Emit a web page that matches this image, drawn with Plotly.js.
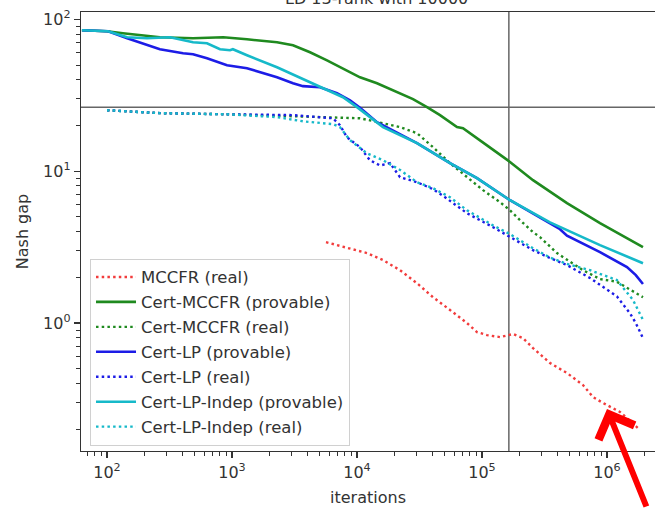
<!DOCTYPE html>
<html>
<head>
<meta charset="utf-8">
<script src="https://cdn.plot.ly/plotly-3.0.1.min.js"></script>
<style>html,body{margin:0;padding:0;background:#fff;}#chart{width:655px;height:508px;}</style>
</head>
<body>
<div id="chart"></div>
<script>
// ---------- data ----------
const chartTitle = 'LD 13-rank with 10000';
const xTitle = 'iterations';
const yTitle = 'Nash gap';

const xTickVals = [1e2, 1e3, 1e4, 1e5, 1e6];
const xTickText = ['10<sup>2</sup>', '10<sup>3</sup>', '10<sup>4</sup>', '10<sup>5</sup>', '10<sup>6</sup>'];
const yTickVals = [1, 10, 100];
const yTickText = ['10<sup>0</sup>', '10<sup>1</sup>', '10<sup>2</sup>'];

const seriesNames = ['MCCFR (real)', 'Cert-MCCFR (provable)', 'Cert-MCCFR (real)',
  'Cert-LP (provable)', 'Cert-LP (real)', 'Cert-LP-Indep (provable)', 'Cert-LP-Indep (real)'];

const mccfrRealX = [5649, 8790, 12020, 16140, 22080, 30200, 40550, 55460, 75860, 91200, 109600, 139300, 177000, 212800, 255900, 350000, 478600, 642700, 772700, 929000, 1270000, 1837000];
const mccfrRealY = [3.41, 3.11, 2.89, 2.60, 2.23, 1.83, 1.48, 1.22, 1.0, 0.873, 0.834, 0.809, 0.847, 0.797, 0.685, 0.546, 0.469, 0.391, 0.326, 0.298, 0.260, 0.198];

const certMccfrProvX = [63, 100, 134, 265, 488, 850, 1318, 2291, 3076, 4207, 5754, 7727, 10570, 14450, 19410, 28050, 36310, 46130, 63100, 70470, 109600, 167500, 255900, 478600, 879000, 1940000];
const certMccfrProvY = [84.7, 83.4, 80.9, 76.2, 75.0, 76.2, 73.8, 70.6, 67.5, 60.7, 53.7, 47.6, 41.5, 37.9, 34.1, 29.8, 26.4, 23.4, 19.5, 19.2, 14.8, 11.5, 8.73, 6.16, 4.55, 3.16];

const certMccfrRealX = [100, 265, 912, 3076, 5754, 10570, 16140, 22080, 30200, 40550, 55460, 75860, 101900, 139300, 167500, 201400, 255900, 291100, 398100, 642700, 879000, 1200000, 1837000, 1940000];
const certMccfrRealY = [25.2, 24.1, 23.7, 23.0, 22.7, 22.3, 20.7, 19.5, 17.8, 14.4, 11.3, 9.14, 7.50, 6.25, 5.53, 4.76, 3.97, 3.68, 2.89, 2.23, 1.95, 1.87, 1.51, 1.48];

const certLpProvX = [63, 102, 145, 194, 265, 406, 488, 631, 912, 1318, 1675, 2291, 3076, 3698, 5058, 6918, 8790, 10570, 14450, 30200, 55460, 91200, 167500, 350000, 420700, 478600, 879000, 1445000, 1700000, 1940000];
const certLpProvY = [84.7, 83.4, 75.0, 69.5, 63.5, 59.7, 58.9, 55.4, 49.8, 47.6, 44.8, 41.5, 37.9, 36.3, 35.7, 32.6, 29.3, 26.2, 21.0, 15.3, 11.3, 9.0, 6.44, 4.55, 4.15, 3.76, 2.93, 2.34, 2.07, 1.81];

const certLpRealX = [100, 265, 912, 3076, 6430, 7300, 8318, 10570, 12700, 15280, 18370, 22080, 30200, 40550, 50580, 75860, 122500, 167500, 255900, 350000, 478600, 731100, 1200000, 1528000, 1700000, 1940000];
const certLpRealY = [25.2, 24.1, 23.7, 23.4, 22.3, 20.1, 16.7, 14.4, 11.8, 10.9, 11.3, 9.14, 8.46, 7.62, 6.74, 5.29, 4.28, 3.68, 3.02, 2.68, 2.41, 1.98, 1.50, 1.16, 1.0, 0.797];

const certLpIndepProvX = [63, 102, 145, 209, 319, 488, 631, 802, 964, 1016, 1318, 2291, 4207, 7727, 10000, 14450, 16140, 30200, 55460, 91200, 167500, 350000, 478600, 879000, 1940000];
const certLpIndepProvY = [84.7, 83.4, 76.2, 75.0, 76.2, 70.6, 69.5, 63.5, 62.5, 63.5, 58.0, 48.3, 38.5, 30.7, 26.4, 21.0, 19.5, 15.3, 11.3, 9.0, 6.44, 4.6, 4.09, 3.26, 2.48];

const certLpIndepRealX = [100, 265, 912, 2291, 3698, 6430, 7300, 8790, 12020, 16140, 22080, 30200, 40550, 55460, 75860, 122500, 167500, 255900, 350000, 478600, 731100, 1200000, 1614000, 1940000];
const certLpIndepRealY = [25.2, 24.1, 23.7, 22.7, 21.3, 20.4, 19.5, 16.0, 13.1, 11.8, 10.2, 8.46, 7.73, 6.74, 5.53, 4.4, 3.85, 3.11, 2.7, 2.45, 2.23, 1.92, 1.42, 1.05];

// reference cross-hair and arrow target
const crossX = 164000;
const crossY = 26.4;
const arrowTip = [1000000, 0.272];

// ---------- styling ----------
const cRed = '#f23c3c', cGreen = '#1f8a1f', cBlue = '#1c1ce6', cCyan = '#16b9c9';
const dotDash = '2.5px,3.2px';
const axisColor = '#333';
const textColor = '#333';

function minorVals(lo, hi) {
  const v = [];
  for (let e = lo; e <= hi; e++) for (let m = 2; m <= 9; m++) v.push(m * Math.pow(10, e));
  return v;
}

const lines = [
  [mccfrRealX, mccfrRealY, cRed, true],
  [certMccfrProvX, certMccfrProvY, cGreen, false],
  [certMccfrRealX, certMccfrRealY, cGreen, true],
  [certLpProvX, certLpProvY, cBlue, false],
  [certLpRealX, certLpRealY, cBlue, true],
  [certLpIndepProvX, certLpIndepProvY, cCyan, false],
  [certLpIndepRealX, certLpIndepRealY, cCyan, true]
];

const traces = [
  {x: [crossX, crossX], y: [1e-3, 1e4], mode: 'lines', line: {color: '#666', width: 1.5}, showlegend: false, hoverinfo: 'skip'},
  {x: [1, 1e9], y: [crossY, crossY], mode: 'lines', line: {color: '#666', width: 1.5}, showlegend: false, hoverinfo: 'skip'}
];
lines.forEach((s, i) => {
  traces.push({
    x: s[0], y: s[1], name: seriesNames[i], mode: 'lines', legendgroup: 'g' + i,
    line: {color: s[2], width: s[3] ? 2.4 : 2.6, dash: s[3] ? dotDash : 'solid'}
  });
});

const tickFont = {family: 'DejaVu Sans', size: 16, color: textColor};

const layout = {
  width: 655, height: 508,
  margin: {l: 81, r: 0, t: 12, b: 57, pad: 0},
  paper_bgcolor: '#fff', plot_bgcolor: '#fff',
  font: {family: 'DejaVu Sans', size: 16, color: textColor},
  showlegend: true,
  legend: {
    x: 0.0157, y: 0.438, xanchor: 'left', yanchor: 'top',
    bgcolor: 'rgba(255,255,255,0.85)', bordercolor: '#d0d0d0', borderwidth: 1,
    font: {family: 'DejaVu Sans', size: 16.5, color: textColor},
    tracegroupgap: 0.5, itemwidth: 40
  },
  xaxis: {
    type: 'log', range: [1.792, 6.384], tickmode: 'array', tickvals: xTickVals, ticktext: xTickText,
    ticks: 'outside', ticklen: 6, tickwidth: 1.3, tickcolor: axisColor,
    showline: true, linecolor: axisColor, linewidth: 1.3, mirror: true,
    showgrid: false, zeroline: false, tickfont: tickFont,
    minor: {tickvals: minorVals(1, 6), ticks: 'outside', ticklen: 3.5, tickwidth: 1, tickcolor: axisColor, showgrid: false},
    title: {text: xTitle, font: {family: 'DejaVu Sans', size: 16, color: textColor}, standoff: 11}
  },
  yaxis: {
    type: 'log', range: [-0.842, 2.048], tickmode: 'array', tickvals: yTickVals, ticktext: yTickText,
    ticks: 'outside', ticklen: 6, tickwidth: 1.3, tickcolor: axisColor,
    showline: true, linecolor: axisColor, linewidth: 1.3, mirror: false,
    showgrid: false, zeroline: false, tickfont: tickFont,
    minor: {tickvals: minorVals(-1, 2), ticks: 'outside', ticklen: 3.5, tickwidth: 1, tickcolor: axisColor, showgrid: false},
    title: {text: yTitle, font: {family: 'DejaVu Sans', size: 16, color: textColor}, standoff: 10}
  },
  annotations: [
    {x: 0.514, y: 1, xref: 'paper', yref: 'paper', xanchor: 'center', yanchor: 'bottom', yshift: 1.5,
     text: chartTitle, showarrow: false, font: {family: 'DejaVu Sans', size: 16, color: textColor}},
    {x: Math.log10(arrowTip[0]), y: Math.log10(arrowTip[1]), xref: 'x', yref: 'y', text: '',
     showarrow: true, arrowhead: 4, arrowsize: 1.25, arrowwidth: 6, arrowcolor: '#ff0000',
     ax: 40, ay: 106, standoff: 0}
  ]
};

Plotly.newPlot('chart', traces, layout, {staticPlot: true, displayModeBar: false});
</script>
</body>
</html>
